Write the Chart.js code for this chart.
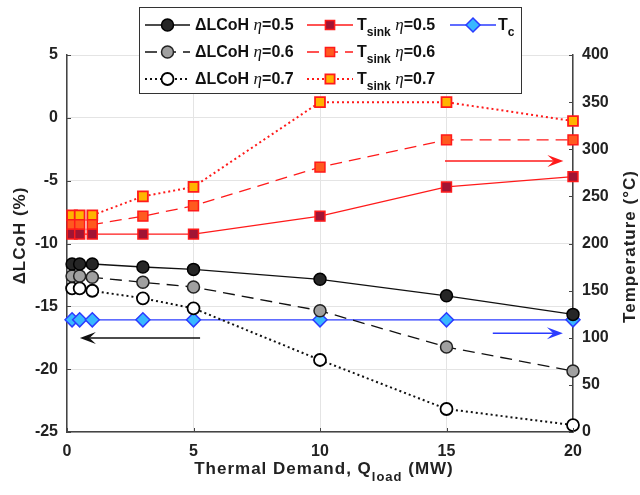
<!DOCTYPE html>
<html><head><meta charset="utf-8">
<script src="https://cdn.jsdelivr.net/npm/chart.js@4.4.1/dist/chart.umd.min.js"></script>
<style>html,body{margin:0;padding:0;background:#fff}</style>
</head><body>
<canvas id="c" width="640" height="495"></canvas>
<script>
// ---- data ----
const qLoad   = [0.2, 0.5, 1, 3, 5, 10, 15, 20];
const lcoh05  = [-11.63, -11.63, -11.63, -11.87, -12.06, -12.85, -14.16, -15.64];
const lcoh06  = [-12.59, -12.59, -12.69, -13.09, -13.46, -15.35, -18.24, -20.15];
const lcoh07  = [-13.57, -13.57, -13.76, -14.36, -15.16, -19.27, -23.17, -24.45];
const tsink05 = [210, 210, 210, 210, 210, 229, 260, 271];
const tsink06 = [220, 220, 220, 229, 240, 281, 310, 310];
const tsink07 = [230, 230, 230, 250, 260, 350, 350, 330];
const tc      = [119, 119, 119, 119, 119, 119, 119, 119];
const xTicks = [0, 5, 10, 15, 20];
const leftTicks = [-25, -20, -15, -10, -5, 0, 5];
const rightTicks = [0, 50, 100, 150, 200, 250, 300, 350, 400];
const seriesLabels = ['ΔLCoH η=0.5', 'ΔLCoH η=0.6', 'ΔLCoH η=0.7',
                      'T_sink η=0.5', 'T_sink η=0.6', 'T_sink η=0.7', 'T_c'];
const xTitle = 'Thermal Demand, Q_load (MW)';
const yTitle = 'ΔLCoH (%)';
const y1Title = 'Temperature (°C)';
// arrows in data units
const arrowAxis = ['y', 'y1', 'y1'];
const arrowX0 = [5.26, 14.94, 16.83];
const arrowX1 = [0.51, 19.62, 19.6];
const arrowY  = [-17.52, 287.5, 104.7];

const FONT = "'Liberation Sans', Arial, Helvetica, sans-serif";
const pts = (ys) => qLoad.map((x, i) => ({x: x, y: ys[i]}));

const RED = '#ff1a1a', BLK = '#111111', BLUE = '#2b3bff';
const arrowColor = [BLK, RED, BLUE];

const datasets = [
  {label: seriesLabels[0], data: pts(lcoh05), yAxisID: 'y', borderColor: BLK, borderWidth: 1.3, borderDash: [],
   pointStyle: 'circle', pointRadius: 6, pointBackgroundColor: '#262626', pointBorderColor: '#000', pointBorderWidth: 1.5},
  {label: seriesLabels[1], data: pts(lcoh06), yAxisID: 'y', borderColor: BLK, borderWidth: 1.3, borderDash: [12, 7],
   pointStyle: 'circle', pointRadius: 6, pointBackgroundColor: '#a0a0a0', pointBorderColor: '#222', pointBorderWidth: 1.5},
  {label: seriesLabels[2], data: pts(lcoh07), yAxisID: 'y', borderColor: BLK, borderWidth: 2, borderDash: [2, 3],
   pointStyle: 'circle', pointRadius: 6, pointBackgroundColor: '#ffffff', pointBorderColor: '#000', pointBorderWidth: 1.8},
  {label: seriesLabels[3], data: pts(tsink05), yAxisID: 'y1', borderColor: RED, borderWidth: 1.3, borderDash: [],
   pointStyle: 'rect', pointRadius: 7, pointBackgroundColor: '#a01434', pointBorderColor: RED, pointBorderWidth: 1.5},
  {label: seriesLabels[4], data: pts(tsink06), yAxisID: 'y1', borderColor: RED, borderWidth: 1.3, borderDash: [12, 7],
   pointStyle: 'rect', pointRadius: 7, pointBackgroundColor: '#ff5a1f', pointBorderColor: RED, pointBorderWidth: 1.5},
  {label: seriesLabels[5], data: pts(tsink07), yAxisID: 'y1', borderColor: RED, borderWidth: 2, borderDash: [2, 3],
   pointStyle: 'rect', pointRadius: 7, pointBackgroundColor: '#ffb400', pointBorderColor: RED, pointBorderWidth: 1.8},
  {label: seriesLabels[6], data: pts(tc), yAxisID: 'y1', borderColor: BLUE, borderWidth: 1.3, borderDash: [],
   pointStyle: 'rectRot', pointRadius: 7, pointBackgroundColor: '#38b8ff', pointBorderColor: BLUE, pointBorderWidth: 1.5}
].map(d => Object.assign(d, {fill: false, tension: 0, clip: false, showLine: true}));

// rich text: "_xxx" = subscript, "η" = italic greek
function richParts(str) {
  const parts = [];
  str.split(/(_[A-Za-z]+|η)/).forEach(s => {
    if (!s) return;
    if (s[0] === '_') parts.push({t: s.slice(1), kind: 'sub'});
    else if (s === 'η') parts.push({t: s, kind: 'eta'});
    else parts.push({t: s, kind: 'n'});
  });
  return parts;
}
function partFont(kind, size) {
  if (kind === 'sub') return 'bold ' + Math.round(size * 0.78) + 'px ' + FONT;
  if (kind === 'eta') return 'italic ' + (size + 1) + "px 'Liberation Serif', 'DejaVu Serif', serif";
  return 'bold ' + size + 'px ' + FONT;
}
function richWidth(ctx, str, size, ls) {
  let w = 0;
  ctx.save();
  ctx.letterSpacing = (ls || 0) + 'px';
  richParts(str).forEach(p => { ctx.font = partFont(p.kind, size); w += ctx.measureText(p.t).width; });
  ctx.restore();
  return w;
}
function drawRich(ctx, str, x, y, size, color, ls) {
  ctx.save();
  ctx.letterSpacing = (ls || 0) + 'px';
  ctx.fillStyle = color; ctx.textAlign = 'left'; ctx.textBaseline = 'alphabetic';
  richParts(str).forEach(p => {
    ctx.font = partFont(p.kind, size);
    const dy = p.kind === 'sub' ? size * 0.4 : 0;
    ctx.fillText(p.t, x, y + dy);
    x += ctx.measureText(p.t).width;
  });
  ctx.restore();
}

const extras = {
  id: 'extras',
  afterDatasetsDraw(chart) {
    const ctx = chart.ctx;
    const xs = chart.scales.x;
    for (let i = 0; i < arrowX0.length; i++) {
      const ys = chart.scales[arrowAxis[i]];
      const px0 = xs.getPixelForValue(arrowX0[i]);
      const px1 = xs.getPixelForValue(arrowX1[i]);
      const py = ys.getPixelForValue(arrowY[i]);
      const dir = px1 > px0 ? 1 : -1;
      const hl = 16, hw = 6;
      ctx.save();
      ctx.strokeStyle = arrowColor[i]; ctx.fillStyle = arrowColor[i]; ctx.lineWidth = 1.5;
      ctx.beginPath(); ctx.moveTo(px0, py); ctx.lineTo(px1 - dir * hl * 0.6, py); ctx.stroke();
      ctx.beginPath();
      ctx.moveTo(px1, py);
      ctx.lineTo(px1 - dir * hl, py - hw);
      ctx.lineTo(px1 - dir * hl * 0.6, py);
      ctx.lineTo(px1 - dir * hl, py + hw);
      ctx.closePath(); ctx.fill();
      ctx.restore();
    }
  },
  afterDraw(chart) {
    const ctx = chart.ctx;
    const a = chart.chartArea;
    const xs = chart.scales.x, yl = chart.scales.y, yr = chart.scales.y1;
    // inward ticks
    ctx.save();
    ctx.strokeStyle = '#444'; ctx.lineWidth = 1;
    const tl = 4;
    xTicks.forEach(v => { const p = Math.round(xs.getPixelForValue(v)) + 0.5;
      ctx.beginPath(); ctx.moveTo(p, a.bottom); ctx.lineTo(p, a.bottom - tl); ctx.stroke(); });
    leftTicks.forEach(v => { const p = Math.round(yl.getPixelForValue(v)) + 0.5;
      ctx.beginPath(); ctx.moveTo(a.left, p); ctx.lineTo(a.left + tl, p); ctx.stroke(); });
    rightTicks.forEach(v => { const p = Math.round(yr.getPixelForValue(v)) + 0.5;
      ctx.beginPath(); ctx.moveTo(a.right, p); ctx.lineTo(a.right - tl, p); ctx.stroke(); });
    ctx.restore();

    // axis titles
    const tsize = 17, tls = 1;
    const wx = richWidth(ctx, xTitle, tsize, tls);
    drawRich(ctx, xTitle, (a.left + a.right) / 2 - wx / 2 + 4, a.bottom + 42, tsize, '#222', tls);
    ctx.save();
    ctx.translate(a.left - 48, (a.top + a.bottom) / 2 - 8);
    ctx.rotate(-Math.PI / 2);
    const wy = richWidth(ctx, yTitle, tsize, tls);
    drawRich(ctx, yTitle, -wy / 2, 6, tsize, '#222', tls);
    ctx.restore();
    ctx.save();
    ctx.translate(a.right + 56, (a.top + a.bottom) / 2 + 3);
    ctx.rotate(-Math.PI / 2);
    const wy1 = richWidth(ctx, y1Title, tsize, tls);
    drawRich(ctx, y1Title, -wy1 / 2, 6, tsize, '#222', tls);
    ctx.restore();

    // legend
    const bx = 139.5, by = 7.5, bw = 382, bh = 86;
    ctx.save();
    ctx.fillStyle = '#fff'; ctx.fillRect(bx, by, bw, bh);
    ctx.strokeStyle = '#333'; ctx.lineWidth = 1; ctx.strokeRect(bx, by, bw, bh);
    ctx.restore();
    const rowY = [25, 52, 79];
    const colLine = [[145, 190], [307, 353], [450, 496]];
    const colText = [195, 357, 498];
    chart.data.datasets.forEach((d, i) => {
      const col = Math.floor(i / 3), row = i % 3;
      const y = rowY[row];
      const [l0, l1] = colLine[col];
      ctx.save();
      ctx.strokeStyle = d.borderColor; ctx.lineWidth = d.borderWidth;
      ctx.setLineDash(d.borderDash || []);
      ctx.beginPath(); ctx.moveTo(l0, y); ctx.lineTo(l1, y); ctx.stroke();
      ctx.setLineDash([]);
      ctx.fillStyle = d.pointBackgroundColor; ctx.strokeStyle = d.pointBorderColor; ctx.lineWidth = d.pointBorderWidth;
      Chart.helpers.drawPoint(ctx, {pointStyle: d.pointStyle, rotation: 0, borderWidth: d.pointBorderWidth,
        radius: d.pointStyle === 'circle' ? 6 : (d.pointStyle === 'rect' ? 6.5 : 7)}, (l0 + l1) / 2, y);
      ctx.restore();
      drawRich(ctx, d.label, colText[col], y + 5, 16, '#111', 0);
    });
  }
};

const tickFont = {family: FONT, size: 16, weight: 'bold'};
new Chart(document.getElementById('c'), {
  type: 'line',
  data: {datasets: datasets},
  options: {
    responsive: false, animation: false, devicePixelRatio: 1,
    layout: {padding: {top: 55, left: 0, right: 0, bottom: 0}},
    plugins: {legend: {display: false}, tooltip: {enabled: false}, title: {display: false}},
    scales: {
      x: {type: 'linear', min: 0, max: 20,
          afterBuildTicks: s => { s.ticks = xTicks.map(v => ({value: v})); },
          afterFit: s => { s.height = 63; },
          ticks: {font: tickFont, color: '#222', padding: 10, maxRotation: 0},
          grid: {color: '#e4e4e4', drawTicks: false},
          border: {display: true, color: '#444', width: 1.5}},
      y: {type: 'linear', position: 'left', min: -25, max: 5,
          afterBuildTicks: s => { s.ticks = leftTicks.map(v => ({value: v})); },
          afterFit: s => { s.width = 67; },
          ticks: {font: tickFont, color: '#222', padding: 9},
          grid: {color: '#e4e4e4', drawTicks: false},
          border: {display: true, color: '#444', width: 1.5}},
      y1: {type: 'linear', position: 'right', min: 0, max: 400,
          afterBuildTicks: s => { s.ticks = rightTicks.map(v => ({value: v})); },
          afterFit: s => { s.width = 67; },
          ticks: {font: tickFont, color: '#222', padding: 9},
          grid: {drawOnChartArea: false, drawTicks: false},
          border: {display: true, color: '#444', width: 1.5}}
    }
  },
  plugins: [extras]
});
</script>
</body></html>
